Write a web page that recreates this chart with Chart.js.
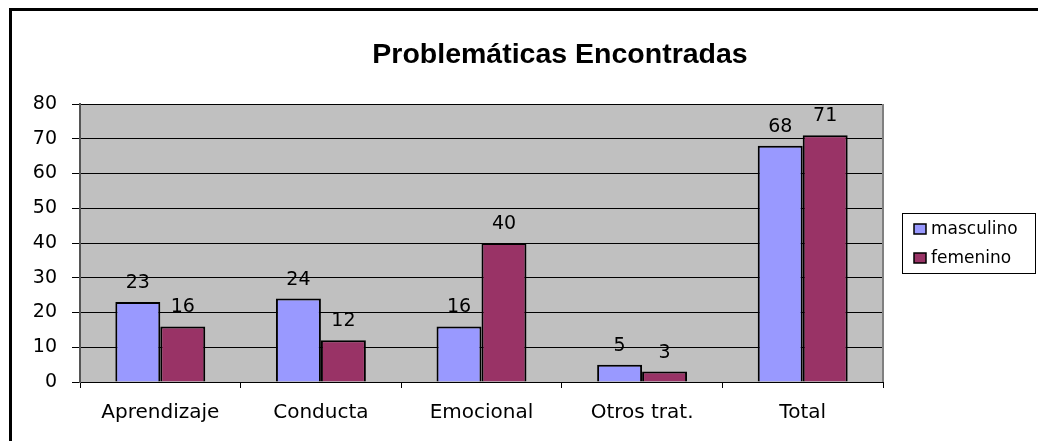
<!DOCTYPE html>
<html>
<head>
<meta charset="utf-8">
<script src="https://cdn.jsdelivr.net/npm/chart.js@4/dist/chart.umd.min.js"></script>
<style>
  html, body { margin: 0; padding: 0; background: #fff; }
  #wrap { width: 1038px; height: 441px; }
</style>
</head>
<body>
<div id="wrap"><canvas id="c" width="1038" height="441"></canvas></div>
<script>
const chartTitle = 'Problemáticas Encontradas';
const categories = ['Aprendizaje', 'Conducta', 'Emocional', 'Otros trat.', 'Total'];
const seriesNames = ['masculino', 'femenino'];
const masculino = [23, 24, 16, 5, 68];
const femenino = [16, 12, 40, 3, 71];
const yTicks = [0, 10, 20, 30, 40, 50, 60, 70, 80];
const seriesColors = ['#9999FF', '#993366'];

const FONT = "'DejaVu Sans', Verdana, sans-serif";

const decorPlugin = {
  id: 'decor',
  beforeDraw(chart) {
    const { ctx, chartArea: a } = chart;
    ctx.save();
    ctx.fillStyle = '#fff';
    ctx.fillRect(0, 0, chart.width, chart.height);
    // outer frame
    ctx.strokeStyle = '#000';
    ctx.lineWidth = 3;
    ctx.beginPath();
    ctx.moveTo(10.5, chart.height + 2);
    ctx.lineTo(10.5, 9.5);
    ctx.lineTo(chart.width + 2, 9.5);
    ctx.stroke();
    // plot area
    ctx.fillStyle = '#C0C0C0';
    ctx.fillRect(a.left, a.top, a.right - a.left, a.bottom - a.top);
    // title
    ctx.fillStyle = '#000';
    ctx.font = "bold 28.5px 'Liberation Sans', Arial, sans-serif";
    ctx.textAlign = 'center';
    ctx.textBaseline = 'alphabetic';
    ctx.fillText(chartTitle, 560, 63);
    ctx.restore();
  },
  afterDraw(chart) {
    const { ctx, chartArea: a } = chart;
    ctx.save();
    // right border of plot
    ctx.strokeStyle = '#808080';
    ctx.lineWidth = 2;
    ctx.beginPath();
    ctx.moveTo(a.right, a.top);
    ctx.lineTo(a.right, a.bottom);
    ctx.stroke();
    // legend
    const lx = 902.5, ly = 213.5, lw = 133, lh = 60;
    ctx.strokeStyle = '#000';
    ctx.lineWidth = 1;
    ctx.strokeRect(lx, ly, lw, lh);
    const rows = [229, 258];
    chart.data.datasets.forEach((ds, i) => {
      const cy = rows[i];
      ctx.fillStyle = ds.backgroundColor;
      ctx.fillRect(914, cy - 5, 12, 10);
      ctx.strokeStyle = '#000';
      ctx.lineWidth = 1.5;
      ctx.strokeRect(914, cy - 5, 12, 10);
      ctx.fillStyle = '#000';
      ctx.font = '17px ' + FONT;
      ctx.textAlign = 'left';
      ctx.textBaseline = 'middle';
      ctx.fillText(ds.label, 931, cy + 1);
    });
    ctx.restore();
  },
  afterDatasetsDraw(chart) {
    const { ctx } = chart;
    ctx.save();
    ctx.fillStyle = '#000';
    ctx.font = '19px ' + FONT;
    ctx.textAlign = 'center';
    ctx.textBaseline = 'middle';
    chart.data.datasets.forEach((ds, i) => {
      chart.getDatasetMeta(i).data.forEach((bar, j) => {
        ctx.fillText(String(ds.data[j]), bar.x, bar.y - 19);
      });
    });
    ctx.restore();
  }
};

new Chart(document.getElementById('c'), {
  type: 'bar',
  data: {
    labels: categories,
    datasets: [
      { label: seriesNames[0], data: masculino, backgroundColor: seriesColors[0], borderColor: '#000', borderWidth: 2 },
      { label: seriesNames[1], data: femenino, backgroundColor: seriesColors[1], borderColor: '#000', borderWidth: 2 }
    ]
  },
  options: {
    responsive: false,
    animation: false,
    devicePixelRatio: 1,
    layout: { padding: { left: 0, top: 104, right: 155, bottom: 0 } },
    datasets: { bar: { categoryPercentage: 0.56, barPercentage: 1.0 } },
    plugins: {
      legend: { display: false },
      title: { display: false },
      tooltip: { enabled: false }
    },
    scales: {
      x: {
        afterFit(s) { s.height = 59; },
        grid: { display: true, drawOnChartArea: false, drawTicks: true, tickLength: 6, tickColor: '#000', offset: true, color: '#000' },
        border: { display: true, color: '#000', width: 1 },
        ticks: { color: '#000', font: { family: FONT, size: 20 }, padding: 13, maxRotation: 0 }
      },
      y: {
        min: 0, max: 80,
        afterFit(s) { s.width = 80; },
        afterBuildTicks(s) { s.ticks = yTicks.map(v => ({ value: v })); },
        grid: { color: '#000', lineWidth: 1, drawTicks: true, tickLength: 8, tickColor: '#000' },
        border: { display: true, color: '#555', width: 2 },
        ticks: { color: '#000', font: { family: FONT, size: 19 }, padding: 15 }
      }
    }
  },
  plugins: [decorPlugin]
});
</script>
</body>
</html>
